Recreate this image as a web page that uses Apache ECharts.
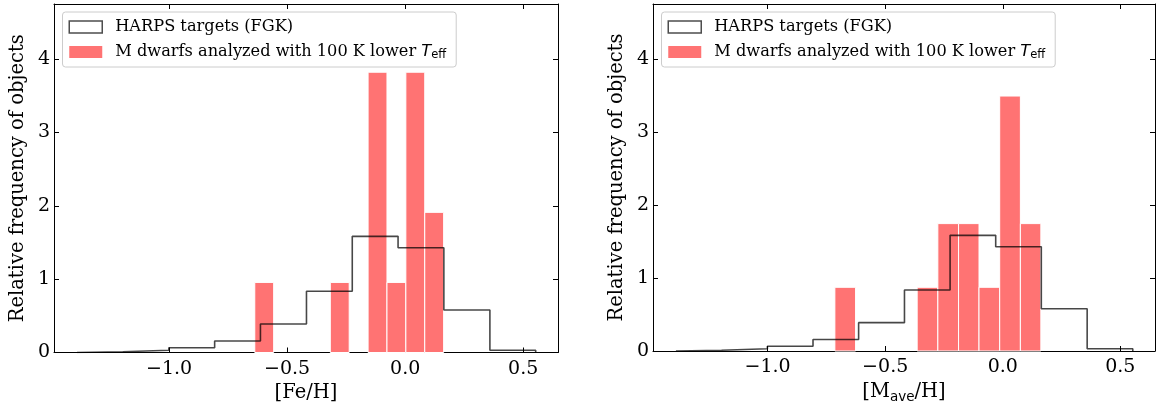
<!DOCTYPE html>
<html>
<head>
<meta charset="utf-8">
<script src="https://cdn.jsdelivr.net/npm/echarts@6/dist/echarts.min.js"></script>
<style>
html,body{margin:0;padding:0;background:#fff;}
#c{width:1156px;height:409px;}
</style>
</head>
<body>
<div id="c"></div>
<script>
// ---- data ----
const harpsEdges = [-1.39, -1.196, -1.001, -0.807, -0.613, -0.418, -0.224, -0.030, 0.164, 0.359, 0.553];
const harpsFreq  = [0.01, 0.03, 0.065, 0.157, 0.388, 0.834, 1.583, 1.428, 0.579, 0.03];

const feEdges = [-0.637, -0.557, -0.477, -0.397, -0.317, -0.237, -0.157, -0.077, 0.003, 0.083, 0.163];
const feFreq  = [0.955, 0, 0, 0, 0.955, 0, 3.82, 0.955, 3.82, 1.91];

const mEdges = [-0.714, -0.626, -0.539, -0.451, -0.364, -0.276, -0.188, -0.101, -0.013, 0.075, 0.162];
const mFreq  = [0.872, 0, 0, 0, 0.872, 1.744, 1.744, 0.872, 3.49, 1.744];

const xTicks = [-1.0, -0.5, 0.0, 0.5];
const yTicks = [0, 1, 2, 3, 4];
const xRange = [-1.4875, 0.6475];
const yRange = [0, 4.75];

const nameHarps = 'HARPS targets (FGK)';
const nameM = 'M dwarfs analyzed with 100 K lower T_eff';
const yName = 'Relative frequency of objects';
const xNames = ['[Fe/H]', '[M{sub|ave}/H]'];

// ---- helpers ----
const FONT = 'DejaVu Serif';
function stepPoints(edges, freq){
  const pts = [[edges[0], 0]];
  for (let i = 0; i < freq.length; i++){
    pts.push([edges[i], freq[i]]);
    pts.push([edges[i+1], freq[i]]);
  }
  pts.push([edges[edges.length-1], 0]);
  return pts;
}
function barRows(edges, freq){
  return freq.map((f, i) => [edges[i], edges[i+1], f]);
}
function fmtX(v){
  const s = Math.abs(v).toFixed(1);
  return v < 0 ? '\u2212' + s : s;
}
function renderBar(params, api){
  const h = api.value(2);
  if (!h) return null;
  const p0 = api.coord([api.value(0), h]);
  const p1 = api.coord([api.value(1), 0]);
  return {
    type: 'rect',
    shape: {x: p0[0], y: p0[1], width: p1[0]-p0[0], height: p1[1]-p0[1]},
    style: {fill: '#ff7373', stroke: '#ffffff', lineWidth: 1}
  };
}

const grids = [
  {left: 54, top: 4, width: 504, height: 348.5},
  {left: 653, top: 4, width: 502, height: 347}
];
const subRich = {
  sub: {fontFamily: 'DejaVu Sans', fontSize: 13.5, color: '#000', padding: [10, 0, 0, 0]}
};

const xAxes = [], yAxes = [], series = [], legends = [];
const mData = [[feEdges, feFreq], [mEdges, mFreq]];
grids.forEach((g, i) => {
  xAxes.push({
    type: 'value', gridIndex: i, min: xRange[0], max: xRange[1], position: 'bottom',
    name: xNames[i], nameLocation: 'middle', nameGap: 29,
    nameTextStyle: {fontFamily: FONT, fontSize: 19.5, color: '#000', rich: subRich},
    axisLine: {show: true, onZero: false, lineStyle: {color: '#000', width: 1}},
    axisTick: {show: true, inside: true, length: 5, customValues: xTicks, lineStyle: {color: '#000', width: 1}},
    axisLabel: {show: true, customValues: xTicks, formatter: fmtX, margin: 7,
      fontFamily: FONT, fontSize: 19, color: '#000'},
    splitLine: {show: false}
  });
  xAxes.push({
    type: 'value', gridIndex: i, min: xRange[0], max: xRange[1], position: 'top',
    axisLine: {show: true, onZero: false, lineStyle: {color: '#000', width: 1}},
    axisTick: {show: true, inside: true, length: 5, customValues: xTicks, lineStyle: {color: '#000', width: 1}},
    axisLabel: {show: false}, splitLine: {show: false}
  });
  yAxes.push({
    type: 'value', gridIndex: i, min: yRange[0], max: yRange[1], position: 'left',
    name: yName, nameLocation: 'middle', nameGap: 26, nameRotate: 90,
    nameTextStyle: {fontFamily: FONT, fontSize: 19.5, color: '#000'},
    axisLine: {show: true, onZero: false, lineStyle: {color: '#000', width: 1}},
    axisTick: {show: true, inside: true, length: 5, customValues: yTicks, lineStyle: {color: '#000', width: 1}},
    axisLabel: {show: true, customValues: yTicks, margin: 4, fontFamily: FONT, fontSize: 19, color: '#000'},
    splitLine: {show: false}
  });
  yAxes.push({
    type: 'value', gridIndex: i, min: yRange[0], max: yRange[1], position: 'right',
    axisLine: {show: true, onZero: false, lineStyle: {color: '#000', width: 1}},
    axisTick: {show: true, inside: true, length: 5, customValues: yTicks, lineStyle: {color: '#000', width: 1}},
    axisLabel: {show: false}, splitLine: {show: false}
  });
  series.push({
    type: 'custom', name: nameM, xAxisIndex: 2*i, yAxisIndex: 2*i,
    renderItem: renderBar, encode: {x: [0, 1], y: 2},
    itemStyle: {color: '#ff7373'},
    data: barRows(mData[i][0], mData[i][1]), z: 2, animation: false
  });
  series.push({
    type: 'line', name: nameHarps, xAxisIndex: 2*i, yAxisIndex: 2*i,
    data: stepPoints(harpsEdges, harpsFreq), showSymbol: false, symbol: 'none',
    lineStyle: {color: '#000', opacity: 0.72, width: 1.6},
    itemStyle: {color: '#000'}, z: 3, animation: false
  });
  legends.push({
    left: g.left + 8.5, top: 12, orient: 'vertical',
    itemWidth: 33, itemHeight: 12, itemGap: 5,
    padding: [5, 10, 5, 6],
    backgroundColor: 'rgba(255,255,255,0.8)', borderColor: '#cccccc', borderWidth: 1, borderRadius: 3,
    selectedMode: false,
    data: [
      {name: nameHarps, icon: 'rect', itemStyle: {color: 'rgba(255,255,255,0)', borderColor: '#4d4d4d', borderWidth: 1.5}},
      {name: nameM, icon: 'rect', itemStyle: {color: '#ff7373', borderWidth: 0}}
    ],
    formatter: function(n){
      return n === nameM ? 'M dwarfs analyzed with 100 K lower {it|T}{sub|eff}' : n;
    },
    textStyle: {
      fontFamily: FONT, fontSize: 16.2, color: '#000', lineHeight: 20, padding: [0, 0, 0, 8],
      rich: {
        it: {fontFamily: 'DejaVu Sans', fontStyle: 'italic', fontSize: 16.2, color: '#000'},
        sub: {fontFamily: 'DejaVu Sans', fontSize: 11.5, color: '#000', padding: [6, 0, 0, 0]}
      }
    }
  });
});

const chart = echarts.init(document.getElementById('c'), null, {renderer: 'canvas'});
chart.setOption({
  animation: false,
  backgroundColor: '#ffffff',
  grid: grids.map(g => Object.assign({show: false, containLabel: false}, g)),
  xAxis: xAxes,
  yAxis: yAxes,
  legend: legends,
  series: series
});
</script>
</body>
</html>
